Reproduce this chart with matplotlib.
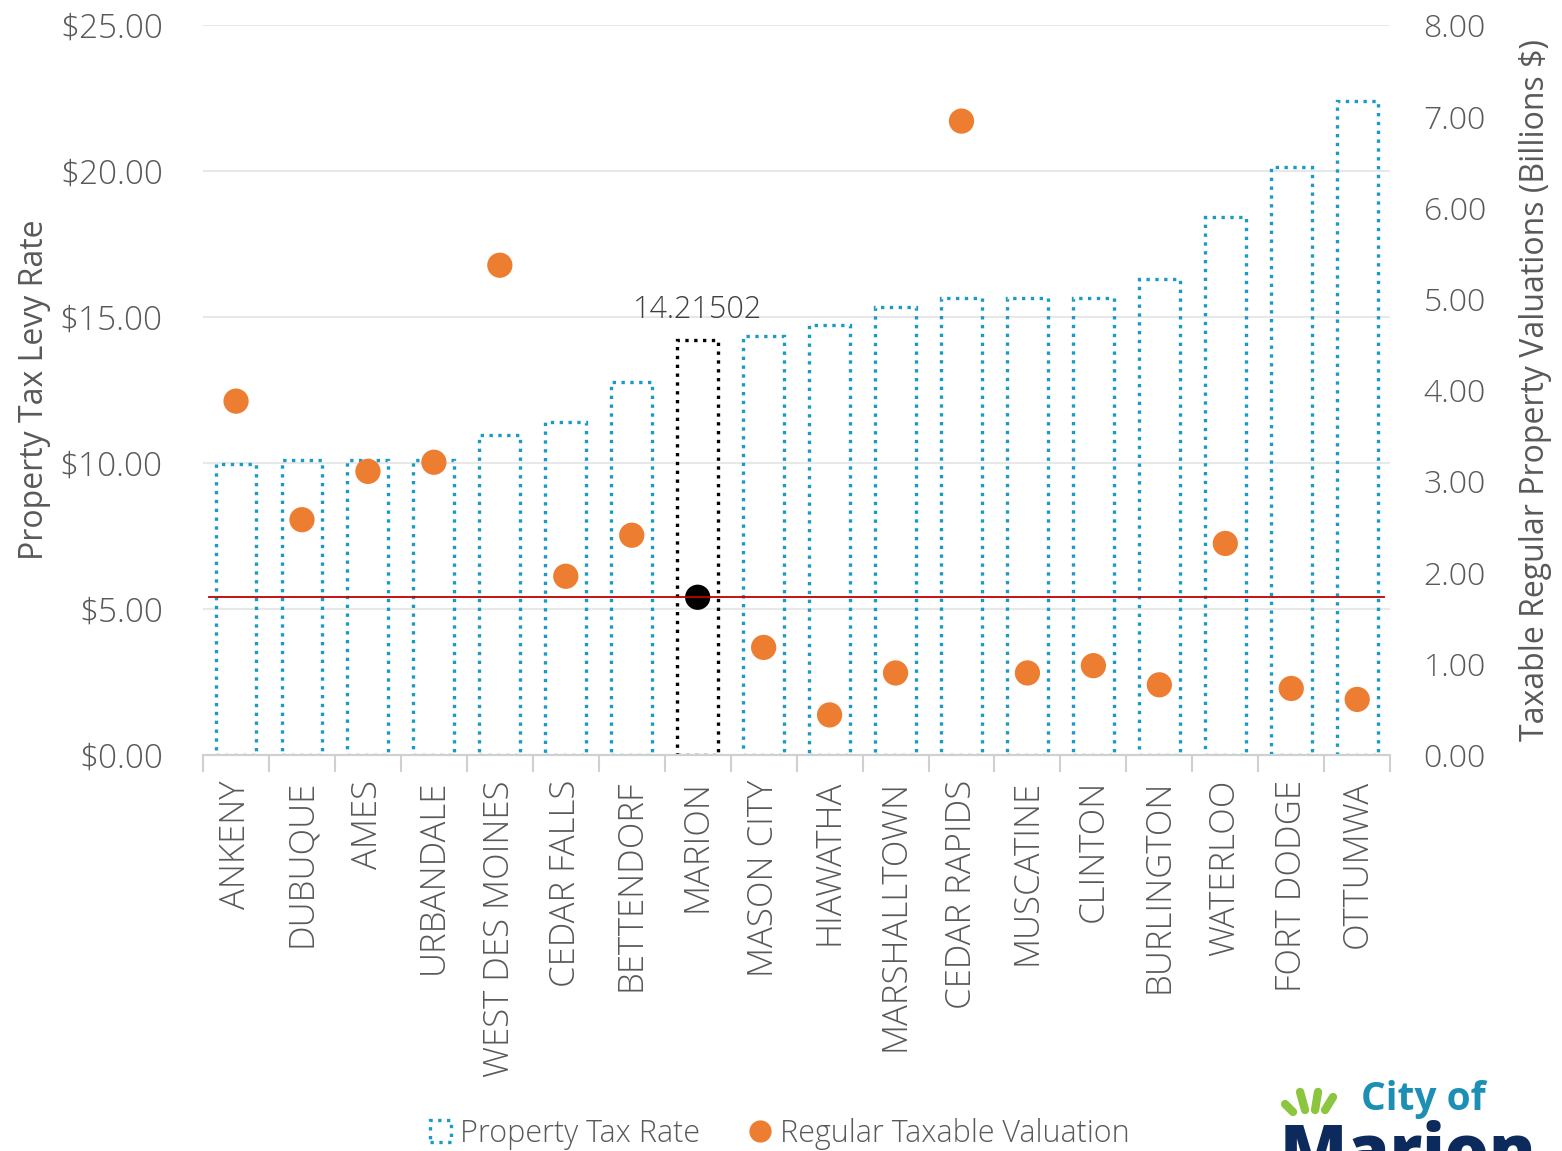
import matplotlib.pyplot as plt
import numpy as np
from matplotlib.patches import Patch
from matplotlib.lines import Line2D

plt.rcParams['font.family'] = ['Open Sans', 'DejaVu Sans']
plt.rcParams['font.weight'] = 'light'

cities = ['ANKENY', 'DUBUQUE', 'AMES', 'URBANDALE', 'WEST DES MOINES', 'CEDAR FALLS',
          'BETTENDORF', 'MARION', 'MASON CITY', 'HIAWATHA', 'MARSHALLTOWN', 'CEDAR RAPIDS',
          'MUSCATINE', 'CLINTON', 'BURLINGTON', 'WATERLOO', 'FORT DODGE', 'OTTUMWA']
# property tax levy rate ($ per $1000)
tax_rate = [9.97, 10.10, 10.10, 10.12, 10.96, 11.40, 12.77, 14.21502, 14.35, 14.73,
            15.34, 15.65, 15.65, 15.67, 16.30, 18.42, 20.14, 22.40]
# regular taxable valuation (billions $)
valuation = [3.88, 2.58, 3.11, 3.21, 5.37, 1.96, 2.41, 1.73, 1.18, 0.44,
             0.90, 6.95, 0.90, 0.98, 0.77, 2.32, 0.73, 0.61]
highlight = 'MARION'

left_ticks = [0, 5, 10, 15, 20, 25]
right_ticks = [0, 1, 2, 3, 4, 5, 6, 7, 8]

teal = '#1a9ac4'
orange = '#ed7d31'
grey = '#595959'

fig = plt.figure(figsize=(15.62, 11.51), dpi=100)
ax = fig.add_axes([0.13, 0.344, 0.76, 0.634])
ax2 = ax.twinx()

x = np.arange(len(cities))
hi = cities.index(highlight)
edge = ['black' if c == highlight else teal for c in cities]
ax.bar(x, tax_rate, width=0.62, facecolor='none', edgecolor=edge,
       linestyle=':', linewidth=2.4, zorder=3)
ax.text(hi, tax_rate[hi] + 0.5, f'{tax_rate[hi]:.5f}', ha='center', va='bottom',
        fontsize=22, color='#404040')

dot_colors = ['black' if c == highlight else orange for c in cities]
ax2.scatter(x, valuation, s=330, c=dot_colors, zorder=4, linewidths=0)
ax2.axhline(valuation[hi], xmin=0.005, xmax=0.995, color='#c00000', linewidth=1.3, zorder=5)

ax.set_xlim(-0.5, len(cities) - 0.5)
ax.set_ylim(0, 25)
ax2.set_ylim(0, 8)
ax.set_yticks(left_ticks)
ax.set_yticklabels([f'${v:.2f}' for v in left_ticks])
ax2.set_yticks(right_ticks)
ax2.set_yticklabels([f'{v:.2f}' for v in right_ticks])
ax.grid(axis='y', color='#e8e8e8', linewidth=1.5, zorder=0)
ax.set_axisbelow(True)

ax.set_xticks(x)
ax.set_xticklabels(cities, rotation=90, fontsize=25, color=grey)
ax.set_xticks(np.arange(len(cities) + 1) - 0.5, minor=True)
ax.tick_params(axis='x', which='major', length=0, pad=18)
ax.tick_params(axis='x', which='minor', length=12, width=1.5, color='#d0d0d0')
ax.tick_params(axis='y', length=0, labelsize=24, labelcolor=grey, pad=29)
ax2.tick_params(axis='y', length=0, labelsize=23, labelcolor=grey, pad=24)

for a in (ax, ax2):
    for side in ('top', 'left', 'right'):
        a.spines[side].set_visible(False)
    a.spines['bottom'].set_color('#d0d0d0')
    a.spines['bottom'].set_linewidth(1.5)

ax.set_ylabel('Property Tax Levy Rate', fontsize=23, color=grey, labelpad=6)
ax2.set_ylabel('Taxable Regular Property Valuations (Billions $)', fontsize=23,
               color=grey, labelpad=24)

# legend
handles = [Patch(facecolor='none', edgecolor=teal, linestyle=':', linewidth=2.4),
           Line2D([], [], marker='o', linestyle='none', color=orange, markersize=15)]
leg = fig.legend(handles, ['Property Tax Rate', 'Regular Taxable Valuation'],
                 loc='center', bbox_to_anchor=(0.499, 0.015), ncol=2, frameon=False,
                 fontsize=22, handlelength=0.7, handletextpad=0.3, columnspacing=1.6)
for t in leg.get_texts():
    t.set_color(grey)

# city logo in the bottom-right corner
fig.text(0.871, 0.045, 'City of', fontsize=28, fontweight='bold', color='#1d8fb5',
         ha='left', va='center')
fig.text(0.819, -0.004, 'Marion', fontsize=50, fontweight='heavy', color='#0c2a5b',
         ha='left', va='center')
rays = [(0.8227, 0.0408, 0.8278, 0.0339), (0.8323, 0.0513, 0.8355, 0.0356),
        (0.8438, 0.0513, 0.8419, 0.0356), (0.8534, 0.0469, 0.8483, 0.0356)]
for x0, y0, x1, y1 in rays:
    fig.add_artist(Line2D([x0, x1], [y0, y1], transform=fig.transFigure,
                          color='#8cc63f', linewidth=6, solid_capstyle='round'))

fig.savefig('out.png', dpi=100)
